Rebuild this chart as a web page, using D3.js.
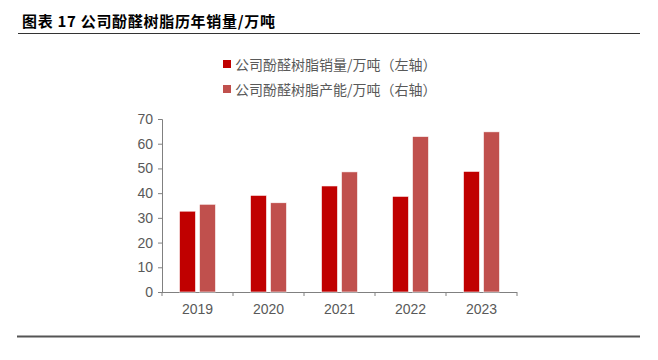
<!DOCTYPE html>
<html><head><meta charset="utf-8">
<script src="https://cdn.jsdelivr.net/npm/d3@7"></script>
<style>body{margin:0;background:#fff}svg{display:block}</style>
</head><body>
<svg id="c" width="658" height="360"></svg>
<script>
const years = ["2019","2020","2021","2022","2023"];
const sales = [32.7, 39.1, 42.9, 38.7, 48.8];
const capacity = [35.5, 36.1, 48.6, 62.9, 64.8];
const seriesNames = ["公司酚醛树脂销量/万吨（左轴）","公司酚醛树脂产能/万吨（右轴）"];
const colors = ["#C00000","#C0504D"];
const yTicks = [0,10,20,30,40,50,60,70];
const title = "图表 17 公司酚醛树脂历年销量/万吨";

const svg = d3.select("#c");
const font = "'Liberation Sans', Arial, 'Noto Sans CJK SC', sans-serif";
const cjk = "'Noto Sans CJK SC', sans-serif";

svg.append("text").attr("x",22).attr("y",27).attr("font-family",cjk)
  .attr("font-size",15).attr("font-weight","bold").attr("letter-spacing",0.7)
  .attr("fill","#000").text(title);
svg.append("line").attr("x1",18).attr("x2",640).attr("y1",33.5).attr("y2",33.5)
  .attr("stroke","#333").attr("stroke-width",1);
svg.append("line").attr("x1",17).attr("x2",640).attr("y1",336.5).attr("y2",336.5)
  .attr("stroke","#555").attr("stroke-width",2);

const x = d3.scaleBand().domain(years).range([162,517]).paddingInner(0).paddingOuter(0);
const y = d3.scaleLinear().domain([0,70]).range([292,119]);

const yAxis = svg.append("g").attr("transform","translate(162,0)")
  .call(d3.axisLeft(y).tickValues(yTicks).tickSize(4).tickPadding(5));
const xAxis = svg.append("g").attr("transform","translate(0,292)")
  .call(d3.axisBottom(x).tickSize(0).tickPadding(12));
const bounds = years.map(d=>x(d)).concat([x(years[years.length-1])+x.bandwidth()]);
svg.append("g").selectAll("line").data(bounds).join("line")
  .attr("x1",d=>d).attr("x2",d=>d).attr("y1",292).attr("y2",296)
  .attr("stroke","#808080");
[yAxis,xAxis].forEach(g=>{
  g.selectAll("path,line").attr("stroke","#808080");
  g.selectAll("text").attr("font-family",font).attr("font-size",14).attr("fill","#595959");
});
yAxis.select("path").attr("d","M-4,119.5H0.5V292.5");
xAxis.select("path").attr("d","M162,0.5H517");

const barW = 16, gap = 4;
const data = [sales, capacity];
data.forEach((vals,si)=>{
  svg.append("g").selectAll("rect").data(vals).join("rect")
    .attr("x",(d,i)=>x(years[i]) + x.bandwidth()/2 - barW - gap/2 + si*(barW+gap))
    .attr("y",d=>y(d)).attr("width",barW).attr("height",d=>y(0)-y(d))
    .attr("fill",colors[si]).attr("stroke","#fff").attr("stroke-width",0.6);
});

const leg = svg.append("g");
seriesNames.forEach((n,i)=>{
  leg.append("rect").attr("x",223).attr("y",60+i*25).attr("width",8).attr("height",8).attr("fill",colors[i]);
  leg.append("text").attr("x",235).attr("y",69.5+i*25).attr("font-family",cjk)
    .attr("font-size",14).attr("fill","#595959").text(n);
});
</script>
</body></html>
